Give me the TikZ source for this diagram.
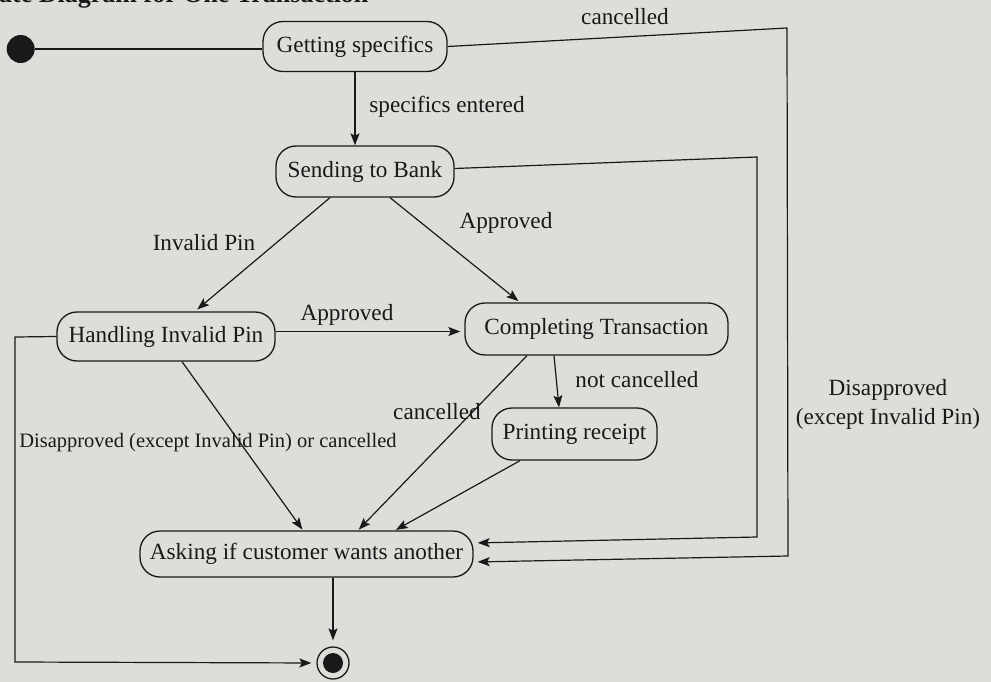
\documentclass[tikz,border=0pt]{standalone}
\usepackage{fontspec}
\setmainfont{Liberation Serif}
\usetikzlibrary{arrows.meta,calc}
\definecolor{paper}{RGB}{221,222,217}
\definecolor{ink}{RGB}{25,25,25}
\begin{document}
\begin{tikzpicture}[x=1pt,y=-1pt,
  state/.style={draw=ink, line width=1.3pt, rounded corners=20pt, inner sep=0pt,
    font=\fontsize{23.2}{27}\selectfont, text=ink},
  lbl/.style={font=\fontsize{23.2}{29}\selectfont, text=ink, inner sep=0pt},
  conn/.style={draw=ink, line width=1.2pt},
  arr/.style={conn, -{Stealth[length=12pt,width=9pt,inset=2.5pt]}},
]
\fill[paper] (0,0) rectangle (991,682);
\useasboundingbox (0,0) rectangle (991,682);

% partial heading at the top edge
\node[anchor=base west, inner sep=0pt, font=\bfseries\fontsize{26}{30}\selectfont, text=ink] (head) at (-1,2.5) {ate Diagram for One Transaction};

% states
\node[circle, fill=ink, minimum size=28pt, inner sep=0pt] (init) at (20.7,49) {};
\node[state, minimum width=184pt, minimum height=50pt] (gs) at (355,46.5) {Getting specifics};
\node[state, minimum width=178pt, minimum height=51pt] (sb) at (365,171.5) {Sending to Bank};
\node[state, minimum width=218pt, minimum height=49pt] (hip) at (166,336.5) {Handling Invalid Pin};
\node[state, minimum width=263pt, minimum height=52pt] (ct) at (596.5,329) {Completing Transaction};
\node[state, minimum width=165pt, minimum height=52pt] (pr) at (574.5,434) {Printing receipt};
\node[state, minimum width=333pt, minimum height=46pt] (ask) at (306.5,554) {Asking if customer wants another};
\node[circle, draw=ink, line width=1.3pt, minimum size=32pt, inner sep=0pt] (fin) at (333,663) {};
\node[circle, fill=ink, minimum size=20pt, inner sep=0pt] (finin) at (fin.center) {};

% corner points
\coordinate (o1) at (787,28);
\coordinate (o2) at (788,556);
\coordinate (i1) at (757,157);
\coordinate (i2) at (757,537);
\coordinate (l1) at (15,337);
\coordinate (l2) at (15,662);

% connectors
\draw[conn] (init.east) -- (init.east -| gs.west);
\draw[arr] (gs.south) -- (gs.south |- sb.north);
\draw[arr, shorten >=4pt] (gs.east) -- (o1) -- (o2) -- ([yshift=-8pt]ask.east);
\draw[arr, shorten >=4pt] ([yshift=3pt]sb.east) -- (i1) -- (i2) -- ([yshift=11pt]ask.east);
\draw[arr, shorten >=3pt] ([xshift=-35pt]sb.south) -- ([xshift=29pt]hip.north);
\draw[arr, shorten >=2pt] ([xshift=25pt]sb.south) -- ([xshift=-76.5pt]ct.north);
\draw[arr, shorten >=4pt] ([yshift=5pt]hip.east) -- ([yshift=5pt]hip.east -| ct.west);
\draw[arr] ([xshift=-42.5pt]ct.south) -- ([xshift=-15.5pt]pr.north);
\draw[arr, shorten >=1pt] ([xshift=16pt]hip.south) -- ([xshift=-3.5pt]ask.north);
\draw[arr, shorten >=1pt] ([xshift=-69.5pt]ct.south) -- ([xshift=51.5pt]ask.north);
\draw[arr, shorten >=1pt] ([xshift=-54.5pt]pr.south) -- ([xshift=88.5pt]ask.north);
\draw[arr, shorten >=6pt] (fin |- ask.south) -- (fin.north);
\draw[arr, shorten >=5pt] (hip.west) -- (l1) -- (l2) -- (fin.west);

% labels
\node[lbl] (lcan) at (625,17) {cancelled};
\node[lbl] (lse) at (447,107) {specifics entered};
\node[lbl, align=center] (ldis) at (888,404) {Disapproved\\(except Invalid Pin)};
\node[lbl] (linv) at (204,243) {Invalid Pin};
\node[lbl] (lapp1) at (506,223) {Approved};
\node[lbl] (lapp2) at (347,315) {Approved};
\node[lbl] (lnc) at (637,380) {not cancelled};
\node[lbl] (lcan2) at (437,412) {cancelled};
\node[lbl, font=\fontsize{20.5}{24}\selectfont] (ldis2) at (208,443) {Disapproved (except Invalid Pin) or cancelled};
\end{tikzpicture}
\end{document}
